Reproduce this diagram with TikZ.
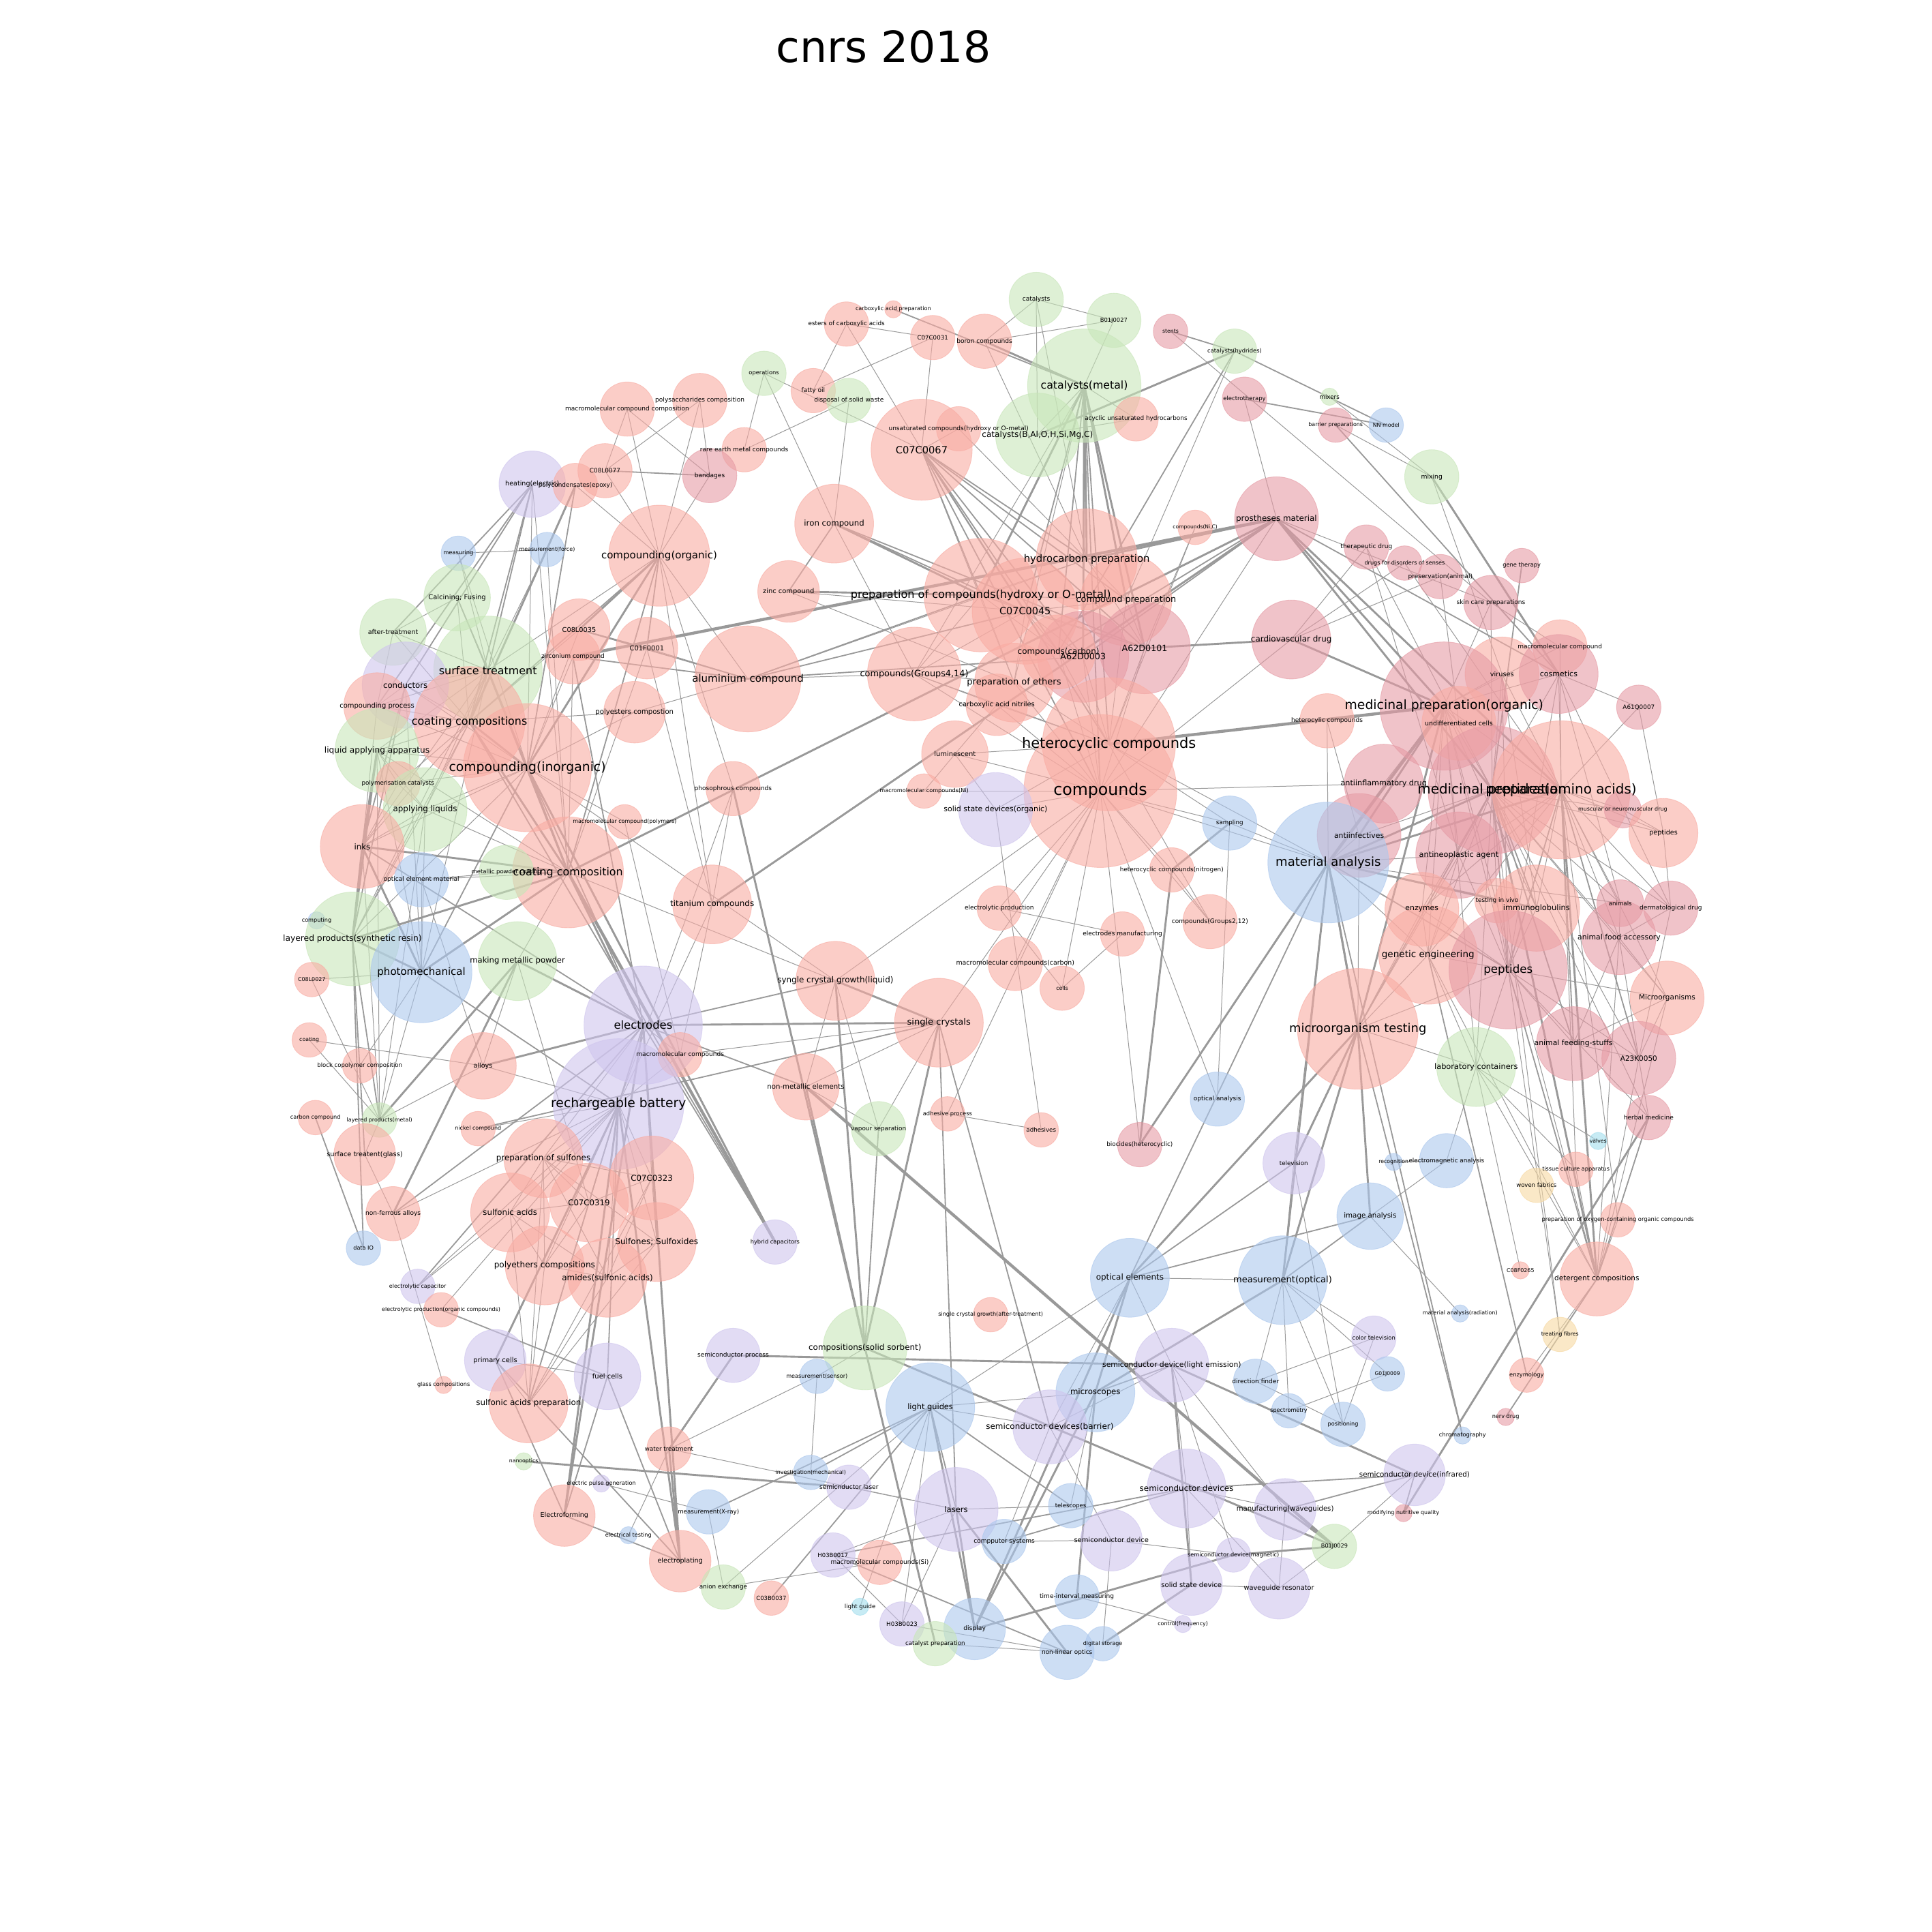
\documentclass[tikz,border=0pt]{standalone}
\usepackage{fontspec}
\setmainfont{DejaVu Sans}
\usetikzlibrary{backgrounds}
\definecolor{cSal}{RGB}{249,172,163}
\definecolor{cPnk}{RGB}{230,155,165}
\definecolor{cGrn}{RGB}{200,230,185}
\definecolor{cBlu}{RGB}{172,200,238}
\definecolor{cVio}{RGB}{207,197,238}
\definecolor{cOrg}{RGB}{247,217,163}
\definecolor{cCyn}{RGB}{163,222,238}
\definecolor{cEdge}{RGB}{153,153,153}
\tikzset{
  bub/.style={shape=circle, inner sep=0pt, line width=0.5pt, fill opacity=0.6, draw opacity=0.6},
  sal/.style={bub, fill=cSal, draw=cSal},
  pnk/.style={bub, fill=cPnk, draw=cPnk},
  grn/.style={bub, fill=cGrn, draw=cGrn},
  blu/.style={bub, fill=cBlu, draw=cBlu},
  vio/.style={bub, fill=cVio, draw=cVio},
  org/.style={bub, fill=cOrg, draw=cOrg},
  cyn/.style={bub, fill=cCyn, draw=cCyn},
  lab/.style={inner sep=0pt, text=black, font=\fontsize{#1}{#1}\selectfont},
  ln1/.style={draw=cEdge, line width=0.55pt},
  ln2/.style={draw=cEdge, line width=1pt},
  ln3/.style={draw=cEdge, line width=1.6pt},
  ln4/.style={draw=cEdge, line width=2.4pt}
}
\begin{document}
\begin{tikzpicture}[x=1pt, y=-1pt]
\useasboundingbox (0,0) rectangle (1568,1568);
\node at (717, 38) [font=\fontsize{35}{35}\selectfont] (title) {cnrs 2018};

% nodes
\node at (841, 243) [grn, minimum size=44] (cat) {};
\node at (904, 260) [grn, minimum size=44] (bj27) {};
\node at (725, 251) [sal, minimum size=14] (cap) {};
\node at (687, 263) [sal, minimum size=36] (ester) {};
\node at (757, 274) [sal, minimum size=36] (c31) {};
\node at (799, 277) [sal, minimum size=44] (boron) {};
\node at (950, 269) [pnk, minimum size=28] (stents) {};
\node at (1002, 285) [grn, minimum size=36] (catHyd) {};
\node at (620, 303) [grn, minimum size=36] (oper) {};
\node at (660, 317) [sal, minimum size=36] (fatty) {};
\node at (689, 325) [grn, minimum size=36] (waste) {};
\node at (880, 313) [grn, minimum size=92] (catMet) {};
\node at (842, 353) [grn, minimum size=68] (catB) {};
\node at (922, 340) [sal, minimum size=36] (acyc) {};
\node at (778, 348) [sal, minimum size=36] (unsat) {};
\node at (748, 365) [sal, minimum size=82] (c67) {};
\node at (1010, 324) [pnk, minimum size=36] (ethr) {};
\node at (1079, 322) [grn, minimum size=14] (mixers) {};
\node at (1084, 345) [pnk, minimum size=28] (barrier) {};
\node at (1125, 345) [blu, minimum size=28] (nn) {};
\node at (509, 332) [sal, minimum size=44] (mcc) {};
\node at (568, 325) [sal, minimum size=44] (polysac) {};
\node at (604, 365) [sal, minimum size=36] (rare) {};
\node at (1162, 387) [grn, minimum size=44] (mixing) {};
\node at (491, 382) [sal, minimum size=44] (c8l77) {};
\node at (432, 393) [vio, minimum size=54] (heating) {};
\node at (467, 394) [sal, minimum size=36] (epoxy) {};
\node at (576, 386) [pnk, minimum size=44] (bandages) {};
\node at (677, 425) [sal, minimum size=64] (iron) {};
\node at (372, 449) [blu, minimum size=28] (measuring) {};
\node at (444, 446) [blu, minimum size=28] (mforce) {};
\node at (535, 451) [sal, minimum size=82] (cOrg) {};
\node at (970, 428) [sal, minimum size=28] (niC) {};
\node at (1036, 421) [pnk, minimum size=68] (prost) {};
\node at (1109, 444) [pnk, minimum size=36] (therap) {};
\node at (1140, 457) [pnk, minimum size=28] (senses) {};
\node at (1169, 468) [pnk, minimum size=36] (preserv) {};
\node at (1235, 459) [pnk, minimum size=28] (gene) {};
\node at (1210, 489) [pnk, minimum size=44] (skin) {};
\node at (371, 485) [grn, minimum size=54] (calc) {};
\node at (882, 454) [sal, minimum size=82] (hydro) {};
\node at (640, 480) [sal, minimum size=50] (zinc) {};
\node at (796, 483) [sal, minimum size=92] (prepHyd) {};
\node at (832, 496) [sal, minimum size=86] (c45) {};
\node at (914, 487) [sal, minimum size=74] (cprep) {};
\node at (319, 513) [grn, minimum size=54] (after) {};
\node at (470, 511) [sal, minimum size=50] (c8l35) {};
\node at (525, 526) [sal, minimum size=50] (c01f) {};
\node at (465, 533) [sal, minimum size=44] (zirc) {};
\node at (1048, 519) [pnk, minimum size=64] (cardio) {};
\node at (929, 526) [pnk, minimum size=74] (a101) {};
\node at (879, 533) [pnk, minimum size=74] (a003) {};
\node at (859, 529) [sal, minimum size=60] (ccarb) {};
\node at (396, 544) [grn, minimum size=88] (surf) {};
\node at (329, 556) [vio, minimum size=70] (cond) {};
\node at (1266, 525) [sal, minimum size=44] (mcomp) {};
\node at (1219, 547) [sal, minimum size=60] (viruses) {};
\node at (1265, 547) [pnk, minimum size=64] (cosm) {};
\node at (607, 551) [sal, minimum size=86] (alu) {};
\node at (742, 547) [sal, minimum size=76] (g414) {};
\node at (823, 554) [sal, minimum size=64] (ethers) {};
\node at (515, 578) [sal, minimum size=50] (polyest) {};
\node at (306, 573) [sal, minimum size=54] (cproc) {};
\node at (381, 586) [sal, minimum size=90] (coatCs) {};
\node at (1330, 574) [pnk, minimum size=36] (a61q) {};
\node at (1172, 573) [pnk, minimum size=104] (medOrg) {};
\node at (1184, 587) [sal, minimum size=60] (undiff) {};
\node at (1077, 585) [sal, minimum size=44] (hetc) {};
\node at (809, 572) [sal, minimum size=50] (nitriles) {};
\node at (306, 609) [grn, minimum size=68] (liqApp) {};
\node at (775, 612) [sal, minimum size=54] (lumin) {};
\node at (900, 604) [sal, minimum size=108] (hetero) {};
\node at (893, 642) [sal, minimum size=124] (compounds) {};
\node at (428, 623) [sal, minimum size=104] (cInorg) {};
\node at (323, 636) [sal, minimum size=36] (polycat) {};
\node at (595, 640) [sal, minimum size=44] (phos) {};
\node at (750, 642) [sal, minimum size=28] (mcNi) {};
\node at (808, 657) [vio, minimum size=60] (ssdOrg) {};
\node at (1123, 636) [pnk, minimum size=64] (antiinf) {};
\node at (1211, 641) [pnk, minimum size=104] (medPrep) {};
\node at (1267, 641) [sal, minimum size=112] (pepAA) {};
\node at (345, 657) [grn, minimum size=68] (applyL) {};
\node at (507, 667) [sal, minimum size=28] (mcPoly) {};
\node at (998, 668) [blu, minimum size=44] (sampling) {};
\node at (294, 687) [sal, minimum size=68] (inks) {};
\node at (1317, 657) [pnk, minimum size=30] (muscular) {};
\node at (1350, 676) [sal, minimum size=56] (pepSm) {};
\node at (1103, 678) [pnk, minimum size=68] (antiinfe) {};
\node at (1078, 700) [blu, minimum size=98] (matAn) {};
\node at (1184, 694) [pnk, minimum size=70] (antineo) {};
\node at (951, 706) [sal, minimum size=36] (hetN) {};
\node at (461, 708) [sal, minimum size=90] (coatC) {};
\node at (411, 708) [grn, minimum size=44] (metPow) {};
\node at (342, 714) [blu, minimum size=44] (optEl) {};
\node at (578, 734) [sal, minimum size=64] (titan) {};
\node at (1154, 738) [sal, minimum size=60] (enzymes) {};
\node at (1215, 731) [sal, minimum size=36] (vivo) {};
\node at (1247, 737) [sal, minimum size=70] (immuno) {};
\node at (1315, 733) [pnk, minimum size=38] (animals) {};
\node at (1356, 737) [pnk, minimum size=44] (derm) {};
\node at (982, 748) [sal, minimum size=44] (g212) {};
\node at (257, 747) [blu, minimum size=14] (computing) {};
\node at (286, 762) [grn, minimum size=76] (layRes) {};
\node at (811, 737) [sal, minimum size=36] (elProd) {};
\node at (911, 758) [sal, minimum size=36] (elManu) {};
\node at (1314, 761) [pnk, minimum size=60] (animFood) {};
\node at (1159, 775) [sal, minimum size=80] (genEng) {};
\node at (824, 782) [sal, minimum size=44] (mcCarb) {};
\node at (420, 780) [grn, minimum size=64] (makePow) {};
\node at (1224, 787) [pnk, minimum size=96] (peptides) {};
\node at (342, 789) [blu, minimum size=82] (photo) {};
\node at (253, 795) [sal, minimum size=28] (c8l27) {};
\node at (862, 802) [sal, minimum size=36] (cells) {};
\node at (678, 796) [sal, minimum size=64] (syngle) {};
\node at (1353, 810) [sal, minimum size=60] (microorg) {};
\node at (522, 832) [vio, minimum size=96] (electrodes) {};
\node at (762, 830) [sal, minimum size=72] (singleC) {};
\node at (1102, 835) [sal, minimum size=98] (microTest) {};
\node at (251, 844) [sal, minimum size=28] (coating) {};
\node at (1277, 847) [pnk, minimum size=60] (feeding) {};
\node at (1330, 859) [pnk, minimum size=60] (a23k) {};
\node at (552, 856) [sal, minimum size=36] (mcs) {};
\node at (392, 865) [sal, minimum size=54] (alloys) {};
\node at (292, 865) [sal, minimum size=28] (block) {};
\node at (1198, 866) [grn, minimum size=64] (labCont) {};
\node at (654, 882) [sal, minimum size=54] (nonMet) {};
\node at (988, 892) [blu, minimum size=44] (optAn) {};
\node at (256, 907) [sal, minimum size=28] (carbonC) {};
\node at (308, 909) [grn, minimum size=28] (layMet) {};
\node at (1338, 907) [pnk, minimum size=36] (herbal) {};
\node at (502, 896) [vio, minimum size=106] (battery) {};
\node at (713, 916) [grn, minimum size=44] (vapour) {};
\node at (769, 904) [sal, minimum size=28] (adhProc) {};
\node at (845, 917) [sal, minimum size=28] (adhesives) {};
\node at (925, 929) [pnk, minimum size=36] (biocides) {};
\node at (388, 916) [sal, minimum size=28] (nickel) {};
\node at (1297, 926) [cyn, minimum size=14] (valves) {};
\node at (1131, 943) [blu, minimum size=14] (recog) {};
\node at (1174, 942) [blu, minimum size=44] (emAn) {};
\node at (1050, 944) [vio, minimum size=50] (tv) {};
\node at (296, 937) [sal, minimum size=50] (glass) {};
\node at (441, 940) [sal, minimum size=64] (sulfones) {};
\node at (1279, 949) [sal, minimum size=28] (tissue) {};
\node at (1247, 962) [org, minimum size=28] (woven) {};
\node at (529, 956) [sal, minimum size=68] (c323) {};
\node at (1112, 987) [blu, minimum size=54] (imgAn) {};
\node at (319, 985) [sal, minimum size=44] (nonFer) {};
\node at (414, 984) [sal, minimum size=64] (sulfAc) {};
\node at (478, 976) [sal, minimum size=64] (c319) {};
\node at (1313, 990) [sal, minimum size=28] (oxygen) {};
\node at (533, 1008) [sal, minimum size=64] (sulfox) {};
\node at (629, 1008) [vio, minimum size=36] (hybrid) {};
\node at (295, 1013) [blu, minimum size=28] (dataIO) {};
\node at (1234, 1031) [sal, minimum size=14] (c8f) {};
\node at (442, 1027) [sal, minimum size=64] (polyeth) {};
\node at (493, 1037) [sal, minimum size=64] (amides) {};
\node at (917, 1037) [blu, minimum size=64] (optElem) {};
\node at (1041, 1039) [blu, minimum size=72] (mOpt) {};
\node at (1296, 1038) [sal, minimum size=60] (deterg) {};
\node at (339, 1044) [vio, minimum size=28] (elCap) {};
\node at (358, 1063) [sal, minimum size=28] (elProdOrg) {};
\node at (1185, 1066) [blu, minimum size=14] (matRad) {};
\node at (804, 1067) [sal, minimum size=28] (scgAfter) {};
\node at (1115, 1086) [vio, minimum size=36] (colorTv) {};
\node at (1266, 1083) [org, minimum size=28] (fibres) {};
\node at (702, 1094) [grn, minimum size=68] (solidSorb) {};
\node at (402, 1104) [vio, minimum size=50] (primary) {};
\node at (595, 1100) [vio, minimum size=44] (semProc) {};
\node at (951, 1108) [vio, minimum size=60] (sdLight) {};
\node at (1126, 1115) [blu, minimum size=28] (g01j) {};
\node at (663, 1117) [blu, minimum size=28] (mSensor) {};
\node at (493, 1117) [vio, minimum size=54] (fuel) {};
\node at (1019, 1121) [blu, minimum size=36] (dirFind) {};
\node at (1239, 1116) [sal, minimum size=28] (enzymology) {};
\node at (360, 1124) [sal, minimum size=14] (glassComp) {};
\node at (429, 1139) [sal, minimum size=64] (sulfPrep) {};
\node at (755, 1142) [blu, minimum size=72] (lightG) {};
\node at (889, 1130) [blu, minimum size=64] (micro) {};
\node at (1046, 1145) [blu, minimum size=28] (spectro) {};
\node at (852, 1158) [vio, minimum size=60] (sdBarrier) {};
\node at (1090, 1156) [blu, minimum size=36] (position) {};
\node at (1222, 1150) [pnk, minimum size=14] (nerv) {};
\node at (1187, 1165) [blu, minimum size=14] (chrom) {};
\node at (543, 1176) [sal, minimum size=36] (water) {};
\node at (425, 1186) [grn, minimum size=14] (nano) {};
\node at (658, 1195) [blu, minimum size=28] (invMech) {};
\node at (1148, 1197) [vio, minimum size=50] (sdIR) {};
\node at (488, 1204) [vio, minimum size=14] (pulse) {};
\node at (689, 1207) [vio, minimum size=36] (semLaser) {};
\node at (963, 1208) [vio, minimum size=64] (sDevs) {};
\node at (458, 1230) [sal, minimum size=50] (eform) {};
\node at (776, 1225) [vio, minimum size=68] (lasers) {};
\node at (869, 1222) [blu, minimum size=36] (tele) {};
\node at (575, 1227) [blu, minimum size=36] (xray) {};
\node at (1043, 1225) [vio, minimum size=50] (manuWG) {};
\node at (1139, 1228) [pnk, minimum size=14] (nutri) {};
\node at (510, 1246) [blu, minimum size=14] (elTest) {};
\node at (815, 1251) [blu, minimum size=36] (comp) {};
\node at (902, 1250) [vio, minimum size=50] (sDev) {};
\node at (1083, 1255) [grn, minimum size=36] (bj29) {};
\node at (1001, 1262) [vio, minimum size=28] (sdMag) {};
\node at (676, 1262) [vio, minimum size=36] (h17) {};
\node at (714, 1268) [sal, minimum size=36] (mcSi) {};
\node at (552, 1267) [sal, minimum size=50] (eplate) {};
\node at (967, 1286) [vio, minimum size=50] (ssd) {};
\node at (1038, 1289) [vio, minimum size=50] (wgRes) {};
\node at (587, 1288) [grn, minimum size=36] (anion) {};
\node at (874, 1296) [blu, minimum size=36] (timeInt) {};
\node at (626, 1297) [sal, minimum size=28] (c03b) {};
\node at (698, 1304) [cyn, minimum size=14] (lightGd) {};
\node at (960, 1318) [vio, minimum size=14] (ctrlFreq) {};
\node at (732, 1318) [vio, minimum size=36] (h23) {};
\node at (791, 1322) [blu, minimum size=50] (display) {};
\node at (759, 1334) [grn, minimum size=36] (catPrep) {};
\node at (895, 1334) [blu, minimum size=28] (digital) {};
\node at (866, 1341) [blu, minimum size=44] (nonLin) {};

% connectors
\begin{scope}[on background layer]
\fill [white] (0,0) rectangle (1568,1568);
\draw [ln1] (mcc.center) edge (c8l77.center) edge (cOrg.center) edge (bandages.center);
\draw [ln1] (polysac.center) edge (c8l77.center) edge (cOrg.center) edge (bandages.center);
\draw [ln2] (c8l77.center) edge (bandages.center);
\draw [ln1] (c8l77.center) edge (cOrg.center);
\draw [ln1] (bandages.center) edge (cOrg.center);
\draw [ln1] (oper.center) edge (rare.center) edge (iron.center) edge (c67.center);
\draw [ln1] (waste.center) edge (iron.center) edge (rare.center);
\draw [ln1] (fatty.center) edge (ester.center) edge (c31.center);
\draw [ln1] (ester.center) edge (c31.center) edge (c67.center);
\draw [ln1] (c31.center) edge (c67.center);
\draw [ln1] (cat.center) edge (bj27.center) edge (boron.center) edge (catB.center) edge (hydro.center);
\draw [ln1] (boron.center) edge (bj27.center) edge (hydro.center);
\draw [ln1] (acyc.center) edge (catB.center) edge (catMet.center);
\draw [ln1] (unsat.center) edge (hydro.center) edge (c67.center);
\draw [ln2] (cap.center) edge (catMet.center);
\draw [ln3] (boron.center) edge (catMet.center);
\draw [ln1] (bj27.center) edge (catMet.center);
\draw [ln3] (catHyd.center) edge (catB.center);
\draw [ln2] (catHyd.center) edge (ccarb.center) edge (nn.center) edge (stents.center);
\draw [ln1] (catHyd.center) edge (cprep.center);
\draw [ln2] (ethr.center) edge (nn.center);
\draw [ln1] (ethr.center) edge (prost.center);
\draw [ln1] (stents.center) edge (skin.center);
\draw [ln1] (mixers.center) edge (mixing.center);
\draw [ln1] (barrier.center) edge (mixing.center);
\draw [ln2] (barrier.center) edge (cosm.center);
\draw [ln3] (mixing.center) edge (cosm.center);
\draw [ln1] (mixing.center) edge (viruses.center);
\draw [ln2] (iron.center) edge (zinc.center) edge (c45.center) edge (a101.center);
\draw [ln3] (iron.center) edge (prepHyd.center);
\draw [ln1] (iron.center) edge (g414.center);
\draw [ln3] (zinc.center) edge (prepHyd.center);
\draw [ln1] (zinc.center) edge (c45.center) edge (ethers.center);
\draw [ln1] (g414.center) edge (alu.center) edge (c45.center) edge (compounds.center) edge (prepHyd.center) edge (hetero.center) edge (ethers.center);
\draw [ln1] (ethers.center) edge (c45.center) edge (prepHyd.center) edge (catMet.center) edge (c67.center) edge (compounds.center) edge (hetero.center);
\draw [ln2] (c67.center) edge (prepHyd.center) edge (c45.center) edge (hydro.center) edge (cprep.center) edge (a101.center) edge (a003.center) edge (ccarb.center) edge (compounds.center) edge (hetero.center);
\draw [ln3] (catMet.center) edge (hydro.center) edge (cprep.center) edge (a101.center) edge (a003.center) edge (prepHyd.center);
\draw [ln2] (catMet.center) edge (c45.center) edge (ccarb.center) edge (compounds.center) edge (hetero.center);
\draw [ln1] (catMet.center) edge (catB.center) edge (g414.center);
\draw [ln1] (prepHyd.center) edge (c45.center) edge (hydro.center) edge (cprep.center) edge (a101.center) edge (ccarb.center);
\draw [ln2] (alu.center) edge (prepHyd.center) edge (c45.center) edge (a003.center);
\draw [ln1] (alu.center) edge (hydro.center);
\draw [ln1] (hydro.center) edge (cprep.center) edge (a101.center);
\draw [ln1] (c45.center) edge (a101.center) edge (a003.center) edge (ccarb.center) edge (cprep.center) edge (hetero.center);
\draw [ln1] (cprep.center) edge (a101.center) edge (hetero.center);
\draw [ln1] (ccarb.center) edge (a003.center) edge (hetero.center) edge (compounds.center);
\draw [ln1] (a003.center) edge (compounds.center) edge (hetero.center);
\draw [ln1] (a101.center) edge (compounds.center) edge (hetero.center);
\draw [ln1] (nitriles.center) edge (compounds.center) edge (hetero.center) edge (g414.center) edge (lumin.center);
\draw [ln1] (lumin.center) edge (compounds.center) edge (hetero.center) edge (mcNi.center);
\draw [ln1] (mcNi.center) edge (compounds.center);
\draw [ln1] (ssdOrg.center) edge (compounds.center) edge (hetero.center) edge (lumin.center) edge (adhesives.center);
\draw [ln1] (niC.center) edge (a101.center) edge (hetero.center);
\draw [ln4] (zirc.center) edge (prost.center);
\draw [ln3] (coatC.center) edge (prost.center);
\draw [ln3] (titan.center) edge (prost.center);
\draw [ln4] (hetero.center) edge (medOrg.center);
\draw [ln3] (prost.center) edge (hydro.center) edge (medOrg.center) edge (medPrep.center) edge (pepAA.center);
\draw [ln2] (prost.center) edge (ccarb.center) edge (a003.center) edge (cosm.center);
\draw [ln1] (prost.center) edge (skin.center) edge (compounds.center);
\draw [ln3] (cardio.center) edge (a101.center) edge (medOrg.center);
\draw [ln1] (cardio.center) edge (compounds.center) edge (therap.center) edge (senses.center) edge (preserv.center);
\draw [ln1] (therap.center) edge (medPrep.center) edge (antineo.center);
\draw [ln1] (senses.center) edge (pepAA.center);
\draw [ln1] (preserv.center) edge (undiff.center);
\draw [ln2] (gene.center) edge (medPrep.center);
\draw [ln1] (skin.center) edge (medOrg.center) edge (mcomp.center);
\draw [ln1] (mcomp.center) edge (medOrg.center) edge (pepAA.center);
\draw [ln2] (heating.center) edge (after.center) edge (cond.center) edge (cproc.center) edge (surf.center) edge (coatCs.center);
\draw [ln1] (heating.center) edge (cInorg.center) edge (coatC.center);
\draw [ln3] (epoxy.center) edge (coatCs.center);
\draw [ln2] (epoxy.center) edge (cInorg.center);
\draw [ln1] (epoxy.center) edge (cOrg.center);
\draw [ln1] (measuring.center) edge (mforce.center) edge (surf.center) edge (cInorg.center);
\draw [ln1] (mforce.center) edge (surf.center) edge (coatC.center);
\draw [ln2] (calc.center) edge (surf.center);
\draw [ln1] (calc.center) edge (after.center) edge (coatCs.center) edge (cInorg.center);
\draw [ln1] (after.center) edge (surf.center) edge (coatCs.center) edge (cproc.center);
\draw [ln3] (c8l35.center) edge (cOrg.center);
\draw [ln2] (c8l35.center) edge (c01f.center) edge (alu.center);
\draw [ln1] (c8l35.center) edge (coatCs.center) edge (cInorg.center);
\draw [ln2] (zirc.center) edge (alu.center) edge (electrodes.center);
\draw [ln1] (zirc.center) edge (cInorg.center) edge (coatC.center);
\draw [ln2] (c01f.center) edge (cOrg.center);
\draw [ln1] (c01f.center) edge (alu.center) edge (coatC.center) edge (titan.center);
\draw [ln3] (cOrg.center) edge (cInorg.center);
\draw [ln2] (cOrg.center) edge (coatCs.center) edge (coatC.center);
\draw [ln1] (cOrg.center) edge (surf.center) edge (phos.center) edge (alu.center) edge (titan.center);
\draw [ln1] (polyest.center) edge (cInorg.center) edge (alu.center) edge (coatCs.center);
\draw [ln3] (surf.center) edge (cInorg.center) edge (coatC.center);
\draw [ln2] (surf.center) edge (coatCs.center);
\draw [ln1] (surf.center) edge (cond.center) edge (liqApp.center) edge (applyL.center) edge (cproc.center) edge (inks.center) edge (layRes.center) edge (photo.center);
\draw [ln2] (cond.center) edge (inks.center) edge (layRes.center);
\draw [ln1] (cond.center) edge (coatCs.center) edge (cproc.center) edge (cInorg.center) edge (photo.center);
\draw [ln1] (cproc.center) edge (coatCs.center) edge (cInorg.center) edge (inks.center);
\draw [ln3] (coatCs.center) edge (cInorg.center) edge (coatC.center);
\draw [ln2] (coatCs.center) edge (hybrid.center);
\draw [ln1] (coatCs.center) edge (inks.center) edge (liqApp.center) edge (layRes.center) edge (applyL.center) edge (polycat.center);
\draw [ln3] (liqApp.center) edge (inks.center) edge (layRes.center);
\draw [ln1] (liqApp.center) edge (photo.center) edge (polycat.center) edge (applyL.center) edge (cInorg.center) edge (coatC.center) edge (layMet.center);
\draw [ln1] (polycat.center) edge (cInorg.center) edge (applyL.center) edge (inks.center);
\draw [ln1] (applyL.center) edge (cInorg.center) edge (coatC.center) edge (inks.center) edge (layRes.center) edge (photo.center) edge (layMet.center);
\draw [ln3] (inks.center) edge (coatC.center) edge (layRes.center) edge (photo.center);
\draw [ln2] (inks.center) edge (electrodes.center);
\draw [ln1] (inks.center) edge (cInorg.center) edge (layMet.center);
\draw [ln3] (cInorg.center) edge (coatC.center) edge (hybrid.center);
\draw [ln2] (cInorg.center) edge (photo.center) edge (electrodes.center);
\draw [ln1] (cInorg.center) edge (layRes.center) edge (mcPoly.center) edge (syngle.center);
\draw [ln3] (layRes.center) edge (coatC.center) edge (photo.center);
\draw [ln2] (layRes.center) edge (glass.center) edge (dataIO.center) edge (layMet.center);
\draw [ln1] (layRes.center) edge (computing.center);
\draw [ln3] (photo.center) edge (coatC.center);
\draw [ln2] (photo.center) edge (battery.center);
\draw [ln1] (photo.center) edge (optEl.center) edge (c8l27.center) edge (layMet.center) edge (block.center);
\draw [ln1] (optEl.center) edge (metPow.center) edge (alloys.center);
\draw [ln3] (makePow.center) edge (electrodes.center) edge (layMet.center) edge (nonFer.center);
\draw [ln1] (makePow.center) edge (alloys.center) edge (coatC.center) edge (c319.center);
\draw [ln4] (coatC.center) edge (hybrid.center);
\draw [ln3] (coatC.center) edge (electrodes.center);
\draw [ln1] (coatC.center) edge (singleC.center) edge (metPow.center) edge (optEl.center);
\draw [ln1] (titan.center) edge (phos.center) edge (mcs.center) edge (battery.center);
\draw [ln1] (phos.center) edge (battery.center);
\draw [ln3] (phos.center) edge (solidSorb.center);
\draw [ln1] (mcPoly.center) edge (mcs.center);
\draw [ln3] (electrodes.center) edge (alloys.center) edge (singleC.center) edge (eform.center) edge (eplate.center);
\draw [ln2] (electrodes.center) edge (battery.center) edge (syngle.center) edge (nonMet.center) edge (elCap.center) edge (nonFer.center) edge (hybrid.center);
\draw [ln1] (electrodes.center) edge (mcs.center) edge (sulfones.center) edge (c323.center) edge (c319.center) edge (sulfox.center);
\draw [ln1] (alloys.center) edge (coating.center) edge (layMet.center) edge (battery.center);
\draw [ln1] (c8l27.center) edge (layMet.center);
\draw [ln1] (coating.center) edge (layMet.center);
\draw [ln2] (carbonC.center) edge (dataIO.center);
\draw [ln1] (glass.center) edge (layMet.center) edge (nonFer.center);
\draw [ln2] (nickel.center) edge (singleC.center);
\draw [ln1] (nickel.center) edge (battery.center);
\draw [ln3] (battery.center) edge (eform.center) edge (eplate.center) edge (primary.center);
\draw [ln2] (battery.center) edge (sulfPrep.center) edge (fuel.center);
\draw [ln1] (battery.center) edge (sulfones.center) edge (c323.center) edge (c319.center) edge (sulfAc.center) edge (polyeth.center) edge (amides.center) edge (sulfox.center) edge (elCap.center) edge (nonFer.center) edge (mcs.center) edge (elProdOrg.center);
\draw [ln1] (sulfones.center) edge (c323.center) edge (c319.center) edge (sulfAc.center) edge (polyeth.center) edge (amides.center) edge (sulfox.center) edge (sulfPrep.center);
\draw [ln1] (c323.center) edge (c319.center) edge (sulfox.center) edge (amides.center) edge (sulfPrep.center);
\draw [ln1] (c319.center) edge (sulfAc.center) edge (polyeth.center) edge (sulfPrep.center);
\draw [ln1] (sulfAc.center) edge (polyeth.center) edge (sulfPrep.center) edge (amides.center) edge (elCap.center);
\draw [ln1] (polyeth.center) edge (sulfPrep.center) edge (amides.center);
\draw [ln1] (amides.center) edge (sulfPrep.center) edge (sulfox.center);
\draw [ln1] (sulfox.center) edge (sulfPrep.center);
\draw [ln2] (elProdOrg.center) edge (fuel.center);
\draw [ln1] (glassComp.center) edge (nonFer.center);
\draw [ln2] (primary.center) edge (eform.center) edge (eplate.center);
\draw [ln1] (primary.center) edge (fuel.center) edge (sulfPrep.center);
\draw [ln2] (fuel.center) edge (eplate.center) edge (eform.center);
\draw [ln2] (eform.center) edge (eplate.center);
\draw [ln3] (nano.center) edge (semLaser.center);
\draw [ln3] (water.center) edge (semProc.center) edge (eplate.center);
\draw [ln1] (water.center) edge (elTest.center) edge (mSensor.center) edge (lasers.center);
\draw [ln3] (semProc.center) edge (sdLight.center);
\draw [ln2] (xray.center) edge (lightG.center);
\draw [ln1] (xray.center) edge (anion.center) edge (pulse.center);
\draw [ln1] (anion.center) edge (lightG.center) edge (mcSi.center);
\draw [ln3] (syngle.center) edge (singleC.center) edge (solidSorb.center);
\draw [ln1] (syngle.center) edge (nonMet.center) edge (vapour.center) edge (compounds.center);
\draw [ln3] (singleC.center) edge (solidSorb.center);
\draw [ln2] (singleC.center) edge (lasers.center) edge (sdBarrier.center);
\draw [ln1] (singleC.center) edge (nonMet.center) edge (vapour.center) edge (mcs.center) edge (compounds.center);
\draw [ln4] (nonMet.center) edge (bj29.center);
\draw [ln3] (nonMet.center) edge (solidSorb.center);
\draw [ln1] (nonMet.center) edge (vapour.center);
\draw [ln2] (vapour.center) edge (solidSorb.center);
\draw [ln1] (adhProc.center) edge (adhesives.center) edge (compounds.center);
\draw [ln1] (compounds.center) edge (elProd.center) edge (mcCarb.center) edge (cells.center) edge (g212.center) edge (sampling.center) edge (hetN.center) edge (biocides.center) edge (optAn.center) edge (antiinf.center) edge (matAn.center);
\draw [ln1] (hetero.center) edge (sampling.center) edge (matAn.center) edge (g212.center);
\draw [ln1] (elProd.center) edge (elManu.center) edge (cells.center);
\draw [ln1] (elManu.center) edge (cells.center);
\draw [ln3] (sampling.center) edge (hetN.center);
\draw [ln1] (sampling.center) edge (optAn.center) edge (matAn.center);
\draw [ln3] (hetN.center) edge (biocides.center);
\draw [ln1] (hetN.center) edge (g212.center);
\draw [ln3] (matAn.center) edge (biocides.center);
\draw [ln3] (solidSorb.center) edge (bj29.center) edge (catPrep.center);
\draw [ln1] (solidSorb.center) edge (mSensor.center);
\draw [ln1] (mSensor.center) edge (invMech.center);
\draw [ln3] (lightG.center) edge (display.center);
\draw [ln2] (lightG.center) edge (lasers.center) edge (tele.center) edge (c03b.center) edge (invMech.center);
\draw [ln1] (lightG.center) edge (sdBarrier.center) edge (optElem.center) edge (h23.center) edge (lightGd.center);
\draw [ln3] (lasers.center) edge (display.center) edge (nonLin.center);
\draw [ln1] (lasers.center) edge (tele.center) edge (h17.center) edge (h23.center) edge (semLaser.center);
\draw [ln3] (micro.center) edge (timeInt.center) edge (display.center) edge (optElem.center) edge (mOpt.center);
\draw [ln2] (micro.center) edge (sdLight.center);
\draw [ln1] (micro.center) edge (tele.center) edge (lightG.center);
\draw [ln3] (optElem.center) edge (display.center) edge (microTest.center);
\draw [ln2] (optElem.center) edge (matAn.center) edge (imgAn.center) edge (tv.center);
\draw [ln1] (optElem.center) edge (mOpt.center) edge (sdLight.center) edge (sdBarrier.center);
\draw [ln3] (sdLight.center) edge (ssd.center) edge (sdIR.center);
\draw [ln1] (sdLight.center) edge (sDevs.center) edge (sdMag.center) edge (sdBarrier.center) edge (manuWG.center);
\draw [ln1] (sdBarrier.center) edge (comp.center) edge (sDev.center);
\draw [ln2] (comp.center) edge (sDevs.center);
\draw [ln1] (comp.center) edge (sDev.center);
\draw [ln1] (sDev.center) edge (digital.center) edge (sdMag.center);
\draw [ln2] (h17.center) edge (nonLin.center) edge (sDevs.center);
\draw [ln1] (h17.center) edge (h23.center) edge (mcSi.center);
\draw [ln1] (h23.center) edge (nonLin.center);
\draw [ln3] (display.center) edge (sdMag.center);
\draw [ln1] (catPrep.center) edge (nonLin.center);
\draw [ln3] (digital.center) edge (ssd.center);
\draw [ln1] (timeInt.center) edge (ctrlFreq.center);
\draw [ln1] (ssd.center) edge (sDevs.center) edge (wgRes.center);
\draw [ln2] (sDevs.center) edge (sdIR.center);
\draw [ln1] (sDevs.center) edge (manuWG.center) edge (wgRes.center);
\draw [ln2] (mOpt.center) edge (imgAn.center) edge (matAn.center);
\draw [ln1] (mOpt.center) edge (colorTv.center) edge (g01j.center) edge (position.center) edge (spectro.center) edge (dirFind.center) edge (tv.center);
\draw [ln1] (imgAn.center) edge (matRad.center) edge (emAn.center);
\draw [ln1] (colorTv.center) edge (dirFind.center) edge (position.center);
\draw [ln1] (g01j.center) edge (spectro.center);
\draw [ln1] (dirFind.center) edge (position.center);
\draw [ln2] (chrom.center) edge (matAn.center) edge (microTest.center);
\draw [ln1] (c8f.center) edge (labCont.center);
\draw [ln1] (sdIR.center) edge (bj29.center);
\draw [ln2] (sdIR.center) edge (manuWG.center) edge (nutri.center);
\draw [ln3] (manuWG.center) edge (bj29.center);
\draw [ln1] (manuWG.center) edge (wgRes.center);
\draw [ln3] (bj29.center) edge (sdMag.center);
\draw [ln1] (bj29.center) edge (wgRes.center);
\draw [ln3] (nutri.center) edge (herbal.center);
\draw [ln2] (nerv.center) edge (deterg.center);
\draw [ln2] (enzymology.center) edge (genEng.center);
\draw [ln1] (enzymology.center) edge (deterg.center);
\draw [ln1] (fibres.center) edge (peptides.center) edge (medPrep.center);
\draw [ln1] (labCont.center) edge (microTest.center) edge (emAn.center) edge (valves.center) edge (deterg.center) edge (tissue.center) edge (peptides.center) edge (genEng.center) edge (medOrg.center);
\draw [ln3] (microTest.center) edge (matAn.center) edge (medOrg.center) edge (tv.center) edge (mOpt.center) edge (imgAn.center);
\draw [ln2] (microTest.center) edge (medPrep.center);
\draw [ln1] (microTest.center) edge (antiinfe.center) edge (enzymes.center) edge (genEng.center) edge (peptides.center) edge (antineo.center);
\draw [ln1] (tv.center) edge (matAn.center) edge (position.center);
\draw [ln1] (emAn.center) edge (recog.center);
\draw [ln4] (medOrg.center) edge (matAn.center);
\draw [ln3] (medOrg.center) edge (antiinfe.center);
\draw [ln1] (medOrg.center) edge (antiinf.center) edge (undiff.center) edge (viruses.center) edge (cosm.center) edge (medPrep.center) edge (pepAA.center) edge (antineo.center) edge (enzymes.center) edge (genEng.center) edge (peptides.center) edge (immuno.center) edge (hetc.center) edge (deterg.center);
\draw [ln3] (medPrep.center) edge (matAn.center) edge (deterg.center);
\draw [ln2] (medPrep.center) edge (peptides.center) edge (immuno.center) edge (feeding.center);
\draw [ln1] (medPrep.center) edge (pepAA.center) edge (antiinf.center) edge (antiinfe.center) edge (antineo.center) edge (enzymes.center) edge (vivo.center) edge (genEng.center) edge (animals.center) edge (derm.center) edge (animFood.center) edge (a23k.center) edge (microorg.center) edge (viruses.center) edge (cosm.center) edge (skin.center) edge (muscular.center) edge (pepSm.center) edge (herbal.center) edge (labCont.center);
\draw [ln3] (pepAA.center) edge (matAn.center) edge (deterg.center);
\draw [ln2] (pepAA.center) edge (peptides.center) edge (a23k.center) edge (feeding.center);
\draw [ln1] (pepAA.center) edge (antineo.center) edge (immuno.center) edge (enzymes.center) edge (genEng.center) edge (microorg.center) edge (animFood.center) edge (pepSm.center) edge (muscular.center) edge (derm.center) edge (animals.center) edge (cosm.center) edge (a61q.center) edge (viruses.center) edge (tissue.center) edge (oxygen.center);
\draw [ln2] (peptides.center) edge (deterg.center) edge (matAn.center);
\draw [ln1] (peptides.center) edge (genEng.center) edge (enzymes.center) edge (vivo.center) edge (immuno.center) edge (microorg.center) edge (feeding.center) edge (a23k.center) edge (antineo.center) edge (herbal.center) edge (viruses.center) edge (cosm.center);
\draw [ln1] (genEng.center) edge (enzymes.center) edge (matAn.center) edge (antineo.center) edge (deterg.center);
\draw [ln1] (animFood.center) edge (feeding.center) edge (a23k.center) edge (animals.center) edge (derm.center) edge (microorg.center) edge (deterg.center);
\draw [ln1] (a23k.center) edge (feeding.center) edge (microorg.center) edge (herbal.center) edge (deterg.center) edge (derm.center);
\draw [ln1] (pepSm.center) edge (muscular.center) edge (a61q.center) edge (derm.center);
\draw [ln1] (microorg.center) edge (feeding.center) edge (deterg.center);
\draw [ln2] (herbal.center) edge (deterg.center);
\draw [ln1] (deterg.center) edge (oxygen.center) edge (tissue.center) edge (fibres.center);
\draw [ln1] (cosm.center) edge (a61q.center) edge (derm.center) edge (animals.center);
\draw [ln1] (viruses.center) edge (immuno.center);
\draw [ln3] (matAn.center) edge (immuno.center) edge (microTest.center) edge (mOpt.center);
\draw [ln1] (matAn.center) edge (antiinfe.center) edge (antineo.center) edge (vivo.center) edge (animals.center) edge (hetc.center);
\draw [ln1] (antiinfe.center) edge (hetc.center);
\end{scope}

% labels
\node at (cat) [lab=5] {catalysts};
\node at (bj27) [lab=4.6] {B01J0027};
\node at (cap) [lab=4.5] {carboxylic acid preparation};
\node at (ester) [lab=4.9] {esters of carboxylic acids};
\node at (c31) [lab=4.8] {C07C0031};
\node at (boron) [lab=5] {boron compounds};
\node at (stents) [lab=4.3] {stents};
\node at (catHyd) [lab=4.6] {catalysts(hydrides)};
\node at (oper) [lab=4.6] {operations};
\node at (fatty) [lab=5] {fatty oil};
\node at (waste) [lab=5] {disposal of solid waste};
\node at (catMet) [lab=8.7] {catalysts(metal)};
\node at (catB) [lab=6.7] {catalysts(B,Al,O,H,Si,Mg,C)};
\node at (acyc) [lab=4.9] {acyclic unsaturated hydrocarbons};
\node at (unsat) [lab=5] {unsaturated compounds(hydroxy or O-metal)};
\node at (c67) [lab=8.1] {C07C0067};
\node at (ethr) [lab=4.7] {electrotherapy};
\node at (mixers) [lab=4.8] {mixers};
\node at (barrier) [lab=4.4] {barrier preparations};
\node at (nn) [lab=4.4] {NN model};
\node at (mcc) [lab=5] {macromolecular compound composition};
\node at (polysac) [lab=5] {polysaccharides composition};
\node at (rare) [lab=5] {rare earth metal compounds};
\node at (mixing) [lab=5.1] {mixing};
\node at (c8l77) [lab=4.9] {C08L0077};
\node at (heating) [lab=5.3] {heating(electric)};
\node at (epoxy) [lab=4.9] {polycondensates(epoxy)};
\node at (bandages) [lab=5] {bandages};
\node at (iron) [lab=6.5] {iron compound};
\node at (measuring) [lab=4.6] {measuring};
\node at (mforce) [lab=4.4] {measurement(force)};
\node at (cOrg) [lab=8.3] {compounding(organic)};
\node at (niC) [lab=4.2] {compounds(Ni,C)};
\node at (prost) [lab=6.6] {prostheses material};
\node at (therap) [lab=5] {therapeutic drug};
\node at (senses) [lab=4.5] {drugs for disorders of senses};
\node at (preserv) [lab=5] {preservation(animal)};
\node at (gene) [lab=4.6] {gene therapy};
\node at (skin) [lab=5] {skin care preparations};
\node at (calc) [lab=5.5] {Calcining; Fusing};
\node at (hydro) [lab=8.2] {hydrocarbon preparation};
\node at (zinc) [lab=5.5] {zinc compound};
\node at (prepHyd) [lab=8.9] {preparation of compounds(hydroxy or O-metal)};
\node at (c45) [lab=8] {C07C0045};
\node at (cprep) [lab=7.1] {compound preparation};
\node at (after) [lab=5.3] {after-treatment};
\node at (c8l35) [lab=5.4] {C08L0035};
\node at (c01f) [lab=5.5] {C01F0001};
\node at (zirc) [lab=4.9] {zirconium compound};
\node at (cardio) [lab=6.6] {cardiovascular drug};
\node at (a101) [lab=7] {A62D0101};
\node at (a003) [lab=7] {A62D0003};
\node at (ccarb) [lab=6.6] {compounds(carbon)};
\node at (surf) [lab=8.8] {surface treatment};
\node at (cond) [lab=6.5] {conductors};
\node at (mcomp) [lab=5] {macromolecular compound};
\node at (viruses) [lab=5.4] {viruses};
\node at (cosm) [lab=6.1] {cosmetics};
\node at (alu) [lab=8.3] {aluminium compound};
\node at (g414) [lab=7.1] {compounds(Groups4,14)};
\node at (ethers) [lab=7.2] {preparation of ethers};
\node at (polyest) [lab=5.6] {polyesters compostion};
\node at (cproc) [lab=5.5] {compounding process};
\node at (coatCs) [lab=8.8] {coating compositions};
\node at (a61q) [lab=4.9] {A61Q0007};
\node at (medOrg) [lab=10.4] {medicinal preparation(organic)};
\node at (undiff) [lab=5.2] {undifferentiated cells};
\node at (hetc) [lab=5] {heterocylic compounds};
\node at (nitriles) [lab=5.5] {carboxylic acid nitriles};
\node at (liqApp) [lab=6.7] {liquid applying apparatus};
\node at (lumin) [lab=5.5] {luminescent};
\node at (hetero) [lab=11.6] {heterocyclic compounds};
\node at (compounds) [lab=13.1] {compounds};
\node at (cInorg) [lab=10.4] {compounding(inorganic)};
\node at (polycat) [lab=4.8] {polymerisation catalysts};
\node at (phos) [lab=5] {phosophrous compounds};
\node at (mcNi) [lab=4.5] {macromolecular compounds(Ni)};
\node at (ssdOrg) [lab=6.1] {solid state devices(organic)};
\node at (antiinf) [lab=6.2] {antiinflammatory drug};
\node at (medPrep) [lab=11] {medicinal preparation};
\node at (pepAA) [lab=11] {peptides(amino acids)};
\node at (applyL) [lab=6.6] {applying liquids};
\node at (mcPoly) [lab=4.4] {macromolecular compound(polymers)};
\node at (sampling) [lab=4.8] {sampling};
\node at (inks) [lab=6.5] {inks};
\node at (muscular) [lab=4.4] {muscular or neuromuscular drug};
\node at (pepSm) [lab=5.3] {peptides};
\node at (antiinfe) [lab=6] {antiinfectives};
\node at (matAn) [lab=10] {material analysis};
\node at (antineo) [lab=6.3] {antineoplastic agent};
\node at (hetN) [lab=4.9] {heterocyclic compounds(nitrogen)};
\node at (coatC) [lab=8.8] {coating composition};
\node at (metPow) [lab=4.7] {metallic powder coating};
\node at (optEl) [lab=5] {optical element material};
\node at (titan) [lab=6.6] {titanium compounds};
\node at (enzymes) [lab=6] {enzymes};
\node at (vivo) [lab=4.9] {testing in vivo};
\node at (immuno) [lab=6.3] {immunoglobulins};
\node at (animals) [lab=4.8] {animals};
\node at (derm) [lab=5] {dermatological drug};
\node at (g212) [lab=5] {compounds(Groups2,12)};
\node at (computing) [lab=4.5] {computing};
\node at (layRes) [lab=6.8] {layered products(synthetic resin)};
\node at (elProd) [lab=5] {electrolytic production};
\node at (elManu) [lab=5] {electrodes manufacturing};
\node at (animFood) [lab=6] {animal food accessory};
\node at (genEng) [lab=7.5] {genetic engineering};
\node at (mcCarb) [lab=5.2] {macromolecular compounds(carbon)};
\node at (makePow) [lab=6.4] {making metallic powder};
\node at (peptides) [lab=9.2] {peptides};
\node at (photo) [lab=8.3] {photomechanical};
\node at (c8l27) [lab=4.4] {C08L0027};
\node at (cells) [lab=4.3] {cells};
\node at (syngle) [lab=6.6] {syngle crystal growth(liquid)};
\node at (microorg) [lab=5.8] {Microorganisms};
\node at (electrodes) [lab=9.1] {electrodes};
\node at (singleC) [lab=7.2] {single crystals};
\node at (microTest) [lab=9.9] {microorganism testing};
\node at (coating) [lab=4.3] {coating};
\node at (feeding) [lab=6] {animal feeding-stuffs};
\node at (a23k) [lab=5.8] {A23K0050};
\node at (mcs) [lab=5] {macromolecular compounds};
\node at (alloys) [lab=5.3] {alloys};
\node at (block) [lab=4.7] {block copolymer composition};
\node at (labCont) [lab=6.3] {laboratory containers};
\node at (nonMet) [lab=5.6] {non-metallic elements};
\node at (optAn) [lab=5] {optical analysis};
\node at (carbonC) [lab=4.5] {carbon compound};
\node at (layMet) [lab=4.4] {layered products(metal)};
\node at (herbal) [lab=5] {herbal medicine};
\node at (battery) [lab=10.4] {rechargeable battery};
\node at (vapour) [lab=4.9] {vapour separation};
\node at (adhProc) [lab=4.6] {adhesive process};
\node at (adhesives) [lab=4.8] {adhesives};
\node at (biocides) [lab=4.9] {biocides(heterocyclic)};
\node at (nickel) [lab=4.4] {nickel compound};
\node at (valves) [lab=4.3] {valves};
\node at (recog) [lab=4.3] {recognition};
\node at (emAn) [lab=4.9] {electromagnetic analysis};
\node at (tv) [lab=4.8] {television};
\node at (glass) [lab=5.4] {surface treatent(glass)};
\node at (sulfones) [lab=6.6] {preparation of sulfones};
\node at (tissue) [lab=4.5] {tissue culture apparatus};
\node at (woven) [lab=4.7] {woven fabrics};
\node at (c323) [lab=6.5] {C07C0323};
\node at (imgAn) [lab=5.7] {image analysis};
\node at (nonFer) [lab=5] {non-ferrous alloys};
\node at (sulfAc) [lab=6.5] {sulfonic acids};
\node at (c319) [lab=6.5] {C07C0319};
\node at (oxygen) [lab=4.6] {preparation of oxygen-containing organic compounds};
\node at (sulfox) [lab=6.7] {Sulfones; Sulfoxides};
\node at (hybrid) [lab=4.6] {hybrid capacitors};
\node at (dataIO) [lab=4.5] {data IO};
\node at (c8f) [lab=4.4] {C08F0265};
\node at (polyeth) [lab=6.7] {polyethers compositions};
\node at (amides) [lab=6.6] {amides(sulfonic acids)};
\node at (optElem) [lab=6.6] {optical elements};
\node at (mOpt) [lab=7.2] {measurement(optical)};
\node at (deterg) [lab=5.8] {detergent compositions};
\node at (elCap) [lab=4.4] {electrolytic capacitor};
\node at (elProdOrg) [lab=4.4] {electrolytic production(organic compounds)};
\node at (matRad) [lab=4.4] {material analysis(radiation)};
\node at (scgAfter) [lab=4.5] {single crystal growth(after-treatment)};
\node at (colorTv) [lab=4.6] {color television};
\node at (fibres) [lab=4.3] {treating fibres};
\node at (solidSorb) [lab=6.6] {compositions(solid sorbent)};
\node at (primary) [lab=5.5] {primary cells};
\node at (semProc) [lab=5] {semiconductor process};
\node at (sdLight) [lab=6] {semiconductor device(light emission)};
\node at (g01j) [lab=4.2] {G01J0009};
\node at (mSensor) [lab=4.5] {measurement(sensor)};
\node at (fuel) [lab=5.5] {fuel cells};
\node at (dirFind) [lab=5] {direction finder};
\node at (enzymology) [lab=4.6] {enzymology};
\node at (glassComp) [lab=4.5] {glass compositions};
\node at (sulfPrep) [lab=6.6] {sulfonic acids preparation};
\node at (lightG) [lab=6.3] {light guides};
\node at (micro) [lab=6.5] {microscopes};
\node at (spectro) [lab=4.5] {spectrometry};
\node at (sdBarrier) [lab=6.6] {semiconductor devices(barrier)};
\node at (position) [lab=4.5] {positioning};
\node at (nerv) [lab=4.5] {nerv drug};
\node at (chrom) [lab=4.6] {chromatography};
\node at (water) [lab=4.8] {water treatment};
\node at (nano) [lab=4.3] {nanooptics};
\node at (invMech) [lab=4.4] {investigation(mechanical)};
\node at (sdIR) [lab=5.7] {semiconductor device(infrared)};
\node at (pulse) [lab=4.5] {electric pulse generation};
\node at (semLaser) [lab=5] {semicnductor laser};
\node at (sDevs) [lab=6.6] {semiconductor devices};
\node at (eform) [lab=5.3] {Electroforming};
\node at (lasers) [lab=6.4] {lasers};
\node at (tele) [lab=4.7] {telescopes};
\node at (xray) [lab=4.8] {measurement(X-ray)};
\node at (manuWG) [lab=5.6] {manufacturing(waveguides)};
\node at (nutri) [lab=4.4] {modifying nutritive quality};
\node at (elTest) [lab=4.5] {electrical testing};
\node at (comp) [lab=5] {compputer systems};
\node at (sDev) [lab=5.5] {semiconductor device};
\node at (bj29) [lab=4.5] {B01J0029};
\node at (sdMag) [lab=4.5] {semiconductor device(magnetic)};
\node at (h17) [lab=4.7] {H03B0017};
\node at (mcSi) [lab=5] {macromolecular compounds(Si)};
\node at (eplate) [lab=5.3] {electroplating};
\node at (ssd) [lab=5.6] {solid state device};
\node at (wgRes) [lab=5.4] {waveguide resonator};
\node at (anion) [lab=4.9] {anion exchange};
\node at (timeInt) [lab=5] {time-interval measuring};
\node at (c03b) [lab=4.7] {C03B0037};
\node at (lightGd) [lab=4.7] {light guide};
\node at (ctrlFreq) [lab=4.4] {control(frequency)};
\node at (h23) [lab=4.8] {H03B0023};
\node at (display) [lab=5.1] {display};
\node at (catPrep) [lab=4.8] {catalyst preparation};
\node at (digital) [lab=4.4] {digital storage};
\node at (nonLin) [lab=4.9] {non-linear optics};
\end{tikzpicture}
\end{document}
